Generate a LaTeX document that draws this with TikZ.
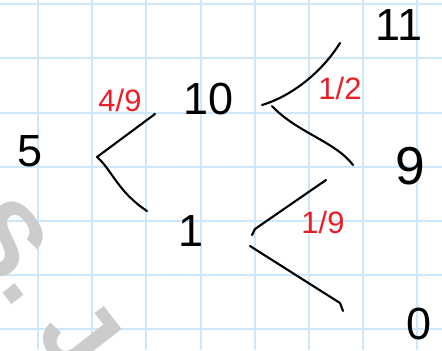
\documentclass[tikz,border=0pt]{standalone}
\usepackage{fontspec}
\setmainfont{Liberation Sans}
\usetikzlibrary{positioning}
\definecolor{paperblue}{RGB}{204,232,250}
\definecolor{inkred}{RGB}{235,30,40}
\definecolor{markgrey}{RGB}{204,204,204}
\tikzset{
  gridline/.style ={line width=1.2pt, paperblue},
  outcome/.style  ={inner sep=0pt, font=\fontsize{32}{32}\selectfont},
  prob/.style     ={inner sep=0pt, inkred, font=\fontsize{22}{22}\selectfont},
  branch/.style   ={line width=1.5pt, black, line cap=round, line join=round},
  watermark/.style={inner sep=0pt, markgrey, rotate=-52,
                    font=\fontsize{74}{74}\selectfont\bfseries},
}

\begin{document}
\begin{tikzpicture}[x=0.025cm, y=-0.025cm]
  \useasboundingbox (0,0) rectangle (442,350);
  \clip (0,0) rectangle (442,350);
  \fill[white] (0,0) rectangle (442,350);
  % squared paper
  \foreach \gx in {38,92,146,201,255,309,363,417}
    \draw[gridline] (\gx,0) -- (\gx,350);
  \foreach \gy in {4,58,113,167,221,275,329}
    \draw[gridline] (0,\gy) -- (442,\gy);
  \node[watermark, anchor=west] (mark) at (-16,211) {S. Ja};

  % values
  \node[outcome] (root) at (30,151) {5};
  \node[outcome] (up)   at (209,99) {10};
  \node[outcome] (down) at (191,231) {1};
  \node[outcome] (uu)   at (399,25) {11};
  \node[outcome, font=\fontsize{38}{38}\selectfont] (ud) at (410,166) {9};
  \node[outcome] (dd)   at (419,324) {0};

  % probabilities
  \node[prob] (proot) at (120,100) {4/9};
  \node[prob] (pup)   at (340,88) {1/2};
  \node[prob] (pdown) at (323,222) {1/9};

  % forks
  \coordinate (rootfork) at (97,157);
  \coordinate (rootup)   at (155,114);
  \coordinate (rootdown) at (147,211);
  \coordinate (upforka)  at (262,105);
  \coordinate (upup)     at (340,43);
  \coordinate (upforkb)  at (272,106);
  \coordinate (updown)   at (353,165);
  \coordinate (dnforka)  at (252,235);
  \coordinate (dnup)     at (326,180);
  \coordinate (dnforkb)  at (250,246);
  \coordinate (dndown)   at (343,311);

  \draw[branch] (rootup) -- (rootfork) .. controls (112,170) and (118,192) .. (rootdown);
  \draw[branch] (upforka) .. controls (292,96) and (322,72) .. (upup);
  \draw[branch] (upforkb) .. controls (296,132) and (336,142) .. (updown);
  \draw[branch] (dnforka) -- ++(3,-6) -- (dnup) -- ++(-4,3);
  \draw[branch] (dnforkb) -- (340,303) -- (dndown);
\end{tikzpicture}
\end{document}
